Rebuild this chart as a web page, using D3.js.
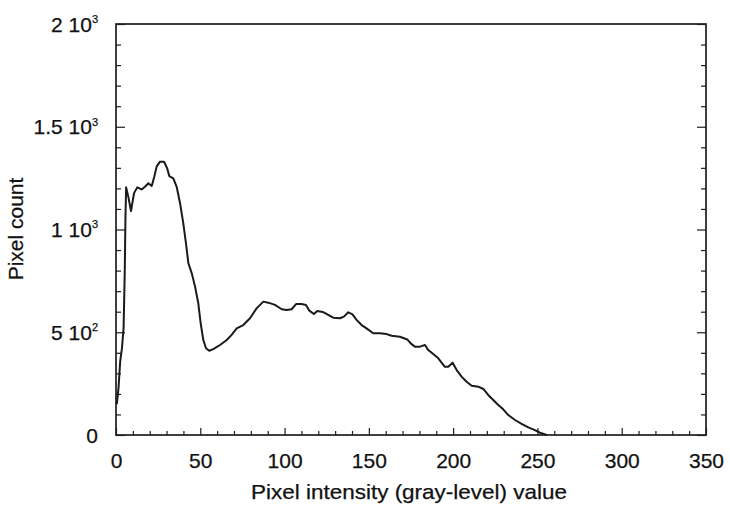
<!DOCTYPE html>
<html>
<head>
<meta charset="utf-8">
<script src="https://cdn.jsdelivr.net/npm/d3@7"></script>
<style>
  html, body { margin: 0; padding: 0; background: #fff; }
  svg { display: block; font-family: "Liberation Sans", Arial, Helvetica, sans-serif; }
</style>
</head>
<body>
<svg id="chart" width="730" height="508"></svg>
<script>
// ---- data ----
const intensity = [0.5, 1.5, 2.5, 3.5, 4.5, 5.2, 5.6, 6.0, 7.3, 8.9, 10.7, 12.6, 15.2, 17.2, 19.2, 21.2,
  22.7, 24.1, 26.1, 28.5, 30.4, 31.6, 34, 36, 38, 39.9, 41.5, 42.9, 44.9, 46.9, 48.8, 50.2, 51.8,
  53.4, 55.3, 57.7, 61.7, 65.7, 68.6, 71.6, 75.5, 79.5, 83.4, 87.4, 90.3, 94.3, 98.3, 101.2, 104.2,
  106.8, 110.1, 112.7, 114.7, 117.4, 119.4, 122.6, 125.9, 128.9, 132.9, 135.2, 137.8, 140.3, 142.7,
  145.7, 148.6, 152.6, 156.6, 160.5, 163.5, 168.4, 172.8, 174.8, 177.3, 180.3, 183.3, 185.2, 188.2,
  191.2, 195.1, 197.1, 199.7, 202.1, 205, 208, 211, 214.9, 217.9, 220.8, 223.8, 226.8, 229.7, 232.7,
  236.7, 240.6, 244.6, 248.5, 251.5, 255.5];
const pixelCount = [150, 230, 360, 420, 520, 800, 1050, 1205, 1160, 1090, 1177, 1205, 1195, 1208, 1225, 1212,
  1257, 1306, 1330, 1330, 1297, 1260, 1249, 1208, 1128, 1031, 934, 837, 788, 722, 642, 545, 462,
  422, 410, 418, 438, 462, 487, 519, 535, 568, 616, 649, 644, 633, 612, 608, 612,
  637, 637, 633, 605, 589, 603, 599, 584, 571, 568, 576, 597, 587, 560,
  535, 519, 495, 495, 491, 483, 478, 465, 446, 430, 430, 438, 414, 394,
  373, 332, 332, 352, 316, 284, 259, 240, 235, 224, 195, 170, 146, 125, 97,
  73, 54, 37, 24, 11, 0];

const xTickValues = [0, 50, 100, 150, 200, 250, 300, 350];
const xTickLabels = ["0", "50", "100", "150", "200", "250", "300", "350"];
const yTickValues = [0, 500, 1000, 1500, 2000];
const yTickMantissa = ["0", "5", "1", "1.5", "2"];
const yTickExponent = ["", "2", "3", "3", "3"];
const xTitle = "Pixel intensity (gray-level) value";
const yTitle = "Pixel count";

// ---- layout ----
const svg = d3.select("#chart");
const mLeft = 116, mRight = 706, mTop = 24, mBottom = 435;
const x = d3.scaleLinear().domain([0, 350]).range([mLeft, mRight]);
const y = d3.scaleLinear().domain([0, 2000]).range([mBottom, mTop]);
const ink = "#1e1e1e";
const fs = 21;

// frame
svg.append("rect")
  .attr("x", mLeft).attr("y", mTop)
  .attr("width", mRight - mLeft).attr("height", mBottom - mTop)
  .attr("fill", "none").attr("stroke", ink).attr("stroke-width", 1.7);

// minor / major ticks
function styleAxis(g) {
  g.select(".domain").remove();
  g.selectAll(".tick line").attr("stroke", ink).attr("stroke-width", 1.2);
}
const minorX = d3.range(0, 351, 10).filter(v => v % 50 !== 0);
const minorY = d3.range(0, 2001, 100).filter(v => v % 500 !== 0);

svg.append("g").attr("transform", `translate(0,${mBottom})`)
  .call(d3.axisBottom(x).tickValues(minorX).tickSize(-4).tickFormat(""))
  .call(styleAxis);
svg.append("g").attr("transform", `translate(0,${mBottom})`)
  .call(d3.axisBottom(x).tickValues(xTickValues).tickSize(-7)
    .tickFormat((d, i) => xTickLabels[i]).tickPadding(18))
  .call(styleAxis)
  .call(g => g.selectAll(".tick text")
    .attr("fill", "#111").attr("font-size", fs)
    .attr("stroke", "#111").attr("stroke-width", 0.25)
    .attr("font-family", "Liberation Sans, Arial, sans-serif"));

svg.append("g").attr("transform", `translate(${mLeft},0)`)
  .call(d3.axisLeft(y).tickValues(minorY).tickSize(-5).tickFormat(""))
  .call(styleAxis);
svg.append("g").attr("transform", `translate(${mLeft},0)`)
  .call(d3.axisLeft(y).tickValues(yTickValues).tickSize(-9).tickFormat(""))
  .call(styleAxis);
svg.append("g").attr("transform", `translate(${mRight},0)`)
  .call(d3.axisRight(y).tickValues(minorY).tickSize(-5).tickFormat(""))
  .call(styleAxis);
svg.append("g").attr("transform", `translate(${mRight},0)`)
  .call(d3.axisRight(y).tickValues(yTickValues).tickSize(-9).tickFormat(""))
  .call(styleAxis);

// y tick labels with superscript exponent
const yl = svg.append("g").selectAll("text")
  .data(yTickValues)
  .join("text")
  .attr("x", 98)
  .attr("y", d => y(d))
  .attr("dy", "0.36em")
  .attr("text-anchor", "end")
  .attr("font-size", fs)
  .attr("fill", "#111")
  .attr("stroke", "#111").attr("stroke-width", 0.25);
yl.append("tspan").text((d, i) => yTickExponent[i] ? yTickMantissa[i] + " 10" : yTickMantissa[i]);
yl.append("tspan")
  .attr("font-size", 11)
  .attr("dy", "-0.8em")
  .text((d, i) => yTickExponent[i]);

// titles
svg.append("text")
  .attr("x", 409).attr("y", 499)
  .attr("text-anchor", "middle")
  .attr("font-size", fs)
  .attr("textLength", 316)
  .attr("lengthAdjust", "spacingAndGlyphs")
  .attr("fill", "#111")
  .attr("stroke", "#111").attr("stroke-width", 0.25)
  .text(xTitle);
svg.append("text")
  .attr("transform", "translate(23,229) rotate(-90)")
  .attr("text-anchor", "middle")
  .attr("font-size", fs)
  .attr("fill", "#111")
  .attr("stroke", "#111").attr("stroke-width", 0.25)
  .text(yTitle);

// histogram curve
const data = intensity.map((v, i) => ({ x: v, y: pixelCount[i] }));
svg.append("path")
  .datum(data)
  .attr("fill", "none")
  .attr("stroke", "#1a1a1a")
  .attr("stroke-width", 2)
  .attr("stroke-linejoin", "round")
  .attr("d", d3.line().x(d => x(d.x)).y(d => y(d.y)));
</script>
</body>
</html>
